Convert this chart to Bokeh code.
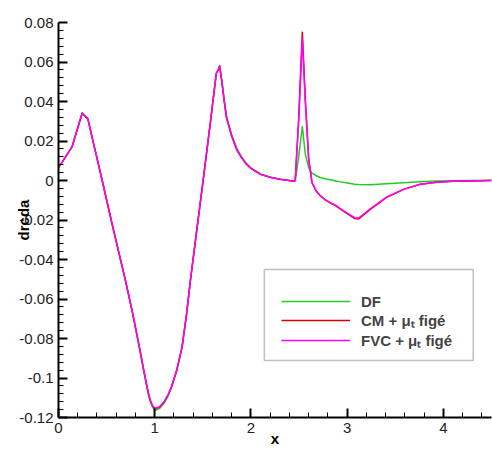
from bokeh.plotting import figure
from bokeh.models import Range1d, Legend, LegendItem, BoxAnnotation, FixedTicker
from bokeh.embed import file_html
from bokeh.resources import INLINE

x = [0.0, 0.038, 0.142, 0.246, 0.305, 0.38, 0.454, 0.55, 0.62, 0.696,
     0.77, 0.841, 0.88, 0.921, 0.94, 0.96, 0.98, 1.007, 1.05, 1.10,
     1.14, 1.173, 1.23, 1.284, 1.33, 1.371, 1.44, 1.503, 1.58, 1.64,
     1.66, 1.675, 1.70, 1.72, 1.745, 1.80, 1.856, 1.90, 1.95, 2.0,
     2.1, 2.2, 2.3, 2.38, 2.44, 2.46, 2.496, 2.534, 2.565, 2.60,
     2.634, 2.68, 2.72, 2.78, 2.84, 2.88, 2.93, 3.0, 3.08, 3.12,
     3.24, 3.41, 3.586, 3.76, 3.93, 4.10, 4.28, 4.5]

fvc = [0.0066, 0.0093, 0.0172, 0.034, 0.0312, 0.0155, 0.0, -0.0205, -0.035, -0.0506,
       -0.067, -0.0844, -0.0945, -0.1046, -0.1088, -0.1121, -0.1142, -0.1153, -0.1146, -0.1119,
       -0.1084, -0.1046, -0.0958, -0.0844, -0.068, -0.0506, -0.024, 0.0, 0.030, 0.0543,
       0.056, 0.0579, 0.049, 0.041, 0.032, 0.0224, 0.0152, 0.0117, 0.0084, 0.0061,
       0.0031, 0.0016, 0.0006, 0.0001, -0.0004, 0.0, 0.030, 0.0717, 0.040, 0.011,
       -0.001, -0.0055, -0.0076, -0.0100, -0.0116, -0.0125, -0.0143, -0.0165, -0.0188, -0.0190,
       -0.0143, -0.0084, -0.0045, -0.0019, -0.0009, -0.0004, -0.0002, 0.0]

cm = [0.0066, 0.0093, 0.0172, 0.034, 0.0312, 0.0155, 0.0, -0.0205, -0.035, -0.0506,
      -0.067, -0.0844, -0.0945, -0.1046, -0.1089, -0.1123, -0.1144, -0.1155, -0.1148, -0.1120,
      -0.1085, -0.1046, -0.0958, -0.0844, -0.068, -0.0506, -0.024, 0.0, 0.030, 0.0543,
      0.056, 0.0579, 0.049, 0.041, 0.032, 0.0224, 0.0152, 0.0117, 0.0084, 0.0061,
      0.0031, 0.0016, 0.0006, 0.0001, -0.0004, 0.0, 0.031, 0.0751, 0.041, 0.011,
      -0.001, -0.0055, -0.0077, -0.0101, -0.0118, -0.0127, -0.0145, -0.0168, -0.0193, -0.0195,
      -0.0146, -0.0085, -0.0045, -0.0019, -0.0009, -0.0004, -0.0002, 0.0]

df = [0.0066, 0.0093, 0.0172, 0.0343, 0.0312, 0.0155, 0.0, -0.0206, -0.0352, -0.0509,
      -0.0674, -0.0849, -0.0951, -0.1053, -0.1096, -0.1128, -0.1150, -0.1163, -0.1155, -0.1126,
      -0.1090, -0.1051, -0.0962, -0.0846, -0.0681, -0.0506, -0.024, 0.0, 0.030, 0.0543,
      0.0562, 0.0582, 0.050, 0.042, 0.0328, 0.0232, 0.0160, 0.0122, 0.0088, 0.0064,
      0.0033, 0.0017, 0.0007, 0.0001, -0.0004, 0.0, 0.012, 0.0273, 0.0135, 0.0065,
      0.0037, 0.0024, 0.0015, 0.0008, 0.0002, -0.0002, -0.0007, -0.0013, -0.0019, -0.0020,
      -0.0021, -0.0017, -0.0012, -0.0006, -0.0003, -0.0001, 0.0, 0.0001]

series_names = ["DF", "CM + \u03bc\u209c fig\u00e9", "FVC + \u03bc\u209c fig\u00e9"]
series_colors = ["#22cc22", "#dd0000", "#ff00ff"]

x_ticks = [0, 1, 2, 3, 4]
y_ticks = [-0.12, -0.1, -0.08, -0.06, -0.04, -0.02, 0, 0.02, 0.04, 0.06, 0.08]
y_tick_labels = {-0.12: "-0.12", -0.1: "-0.1", -0.08: "-0.08", -0.06: "-0.06",
                 -0.04: "-0.04", -0.02: "-0.02", 0: "0", 0.02: "0.02",
                 0.04: "0.04", 0.06: "0.06", 0.08: "0.08"}

p = figure(width=492, height=449, output_backend="svg", toolbar_location=None,
           x_range=Range1d(0, 4.5), y_range=Range1d(-0.12, 0.08),
           min_border_left=58, min_border_right=1, min_border_top=22,
           min_border_bottom=32)
p.outline_line_color = None
p.xgrid.visible = False
p.ygrid.visible = False
p.background_fill_color = "white"

renderers = []
for ys, c in zip([df, cm, fvc], series_colors):
    r = p.line(x, ys, line_color=c, line_width=1.5, line_join="round")
    renderers.append(r)

font = "Liberation Sans"
for ax in [p.xaxis[0], p.yaxis[0]]:
    ax.axis_line_width = 2
    ax.axis_line_color = "black"
    ax.major_tick_in = 9
    ax.major_tick_out = 0
    ax.minor_tick_in = 5
    ax.minor_tick_out = 0
    ax.major_tick_line_width = 2
    ax.minor_tick_line_width = 1
    ax.major_label_text_font = font
    ax.major_label_text_font_size = "15px"
    ax.major_label_text_color = "#222222"
    ax.major_label_standoff = 5
    ax.axis_label_text_font = font
    ax.axis_label_text_font_style = "bold"
    ax.axis_label_text_font_size = "15px"
    ax.axis_label_text_color = "black"

p.xaxis[0].ticker = FixedTicker(ticks=x_ticks,
                                minor_ticks=[i * 0.2 for i in range(23)])
p.yaxis[0].ticker = FixedTicker(ticks=y_ticks,
                                minor_ticks=[-0.12 + i * 0.004 for i in range(51)])
p.yaxis[0].major_label_overrides = y_tick_labels
p.xaxis[0].axis_label = "x"
p.xaxis[0].axis_label_standoff = -6
p.yaxis[0].axis_label = "drcda"
p.yaxis[0].axis_label_standoff = -16

box = BoxAnnotation(left=2.139, right=4.31, top=-0.0451, bottom=-0.0911,
                    fill_color="white", fill_alpha=1.0,
                    line_color="#333333", line_width=1.5, level="overlay")
p.add_layout(box)

legend = Legend(items=[LegendItem(label=n, renderers=[r])
                       for n, r in zip(series_names, renderers)],
                location=(219, 63), border_line_alpha=0,
                background_fill_alpha=0, glyph_width=69, glyph_height=18,
                label_standoff=11, spacing=0, padding=4, margin=0,
                label_text_font=font, label_text_font_style="bold",
                label_text_font_size="15px", label_height=18)
p.add_layout(legend)

open("out.html", "w").write(file_html(p, INLINE))
